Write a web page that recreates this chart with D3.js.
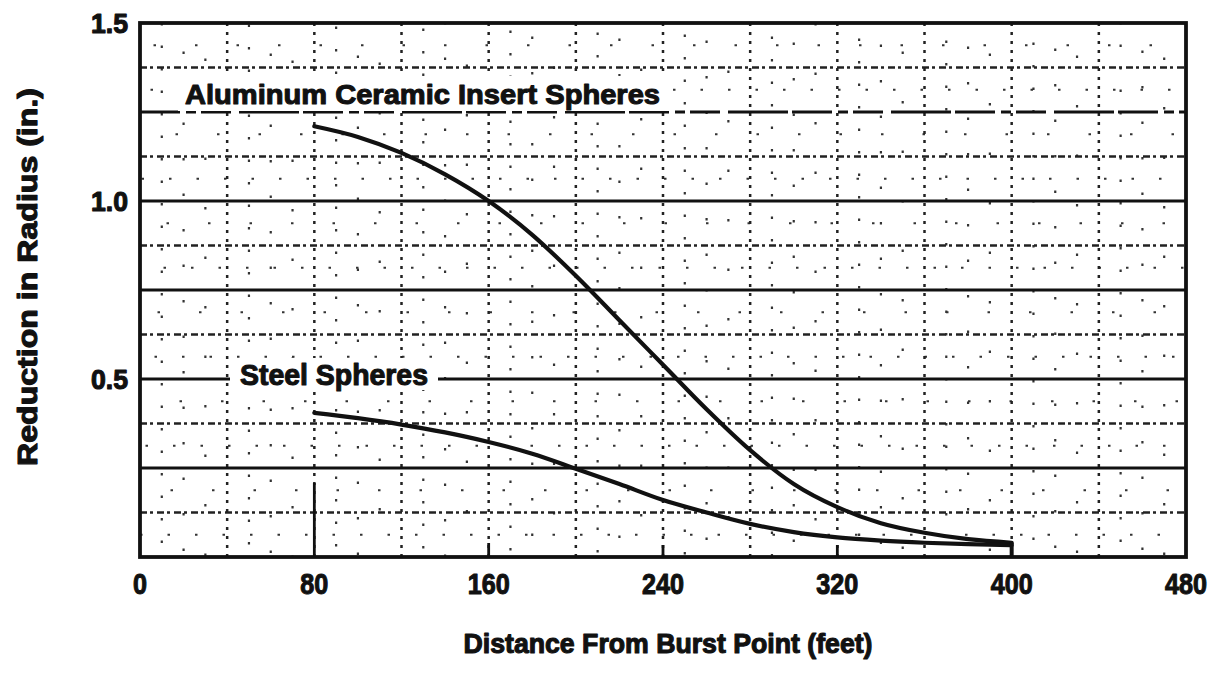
<!DOCTYPE html>
<html>
<head>
<meta charset="utf-8">
<script src="https://cdn.jsdelivr.net/npm/d3@7"></script>
<style>
  html, body { margin: 0; padding: 0; background: #fff; }
  svg text {
    font-family: "Liberation Sans", Arial, sans-serif; font-weight: bold; fill: #111;
    stroke: #111; stroke-width: 1.1px; stroke-linejoin: round;
  }
</style>
</head>
<body>
<svg id="chart" width="1216" height="675"></svg>
<script>
// Distance from burst point (feet)
const distance = [80, 100, 120, 140, 160, 180, 200, 220, 240, 260, 280, 300, 320, 340, 360, 380, 400];
// Reduction in radius (in.)
const aluminumCeramic = [1.21, 1.18, 1.135, 1.075, 1.0, 0.905, 0.79, 0.665, 0.54, 0.415, 0.30, 0.205, 0.14, 0.095, 0.068, 0.05, 0.04];
const steel = [0.405, 0.39, 0.372, 0.35, 0.323, 0.29, 0.248, 0.205, 0.16, 0.125, 0.093, 0.07, 0.055, 0.046, 0.04, 0.036, 0.033];

const xTicks = [0, 80, 160, 240, 320, 400, 480];
const xTickLabels = ["0", "80", "160", "240", "320", "400", "480"];
const yTicks = [0.5, 1.0, 1.5];
const yTickLabels = ["0.5", "1.0", "1.5"];
const majorGridY = [0.25, 0.5, 0.75, 1.0, 1.25];
const minorGridY = [0.125, 0.375, 0.625, 0.875, 1.125, 1.375];
const gridX = [40, 80, 120, 160, 200, 240, 280, 320, 360, 400, 440];
const fineGridX = [10, 20, 30, 50, 60, 70, 90, 100, 110, 130, 140, 150, 170, 180, 190, 210, 220, 230, 250, 260, 270, 290, 300, 310, 330, 340, 350, 370, 380, 390, 410, 420, 430, 450, 460, 470];
const fineGridY = [0.0625, 0.1875, 0.3125, 0.4375, 0.5625, 0.6875, 0.8125, 0.9375, 1.0625, 1.1875, 1.3125, 1.4375];

const svg = d3.select("#chart");
const plotLeft = 140, plotRight = 1186, plotTop = 23, plotBottom = 557;

const x = d3.scaleLinear().domain([0, 480]).range([plotLeft, plotRight]);
const y = d3.scaleLinear().domain([0, 1.5]).range([plotBottom, plotTop]);

const grid = svg.append("g");

// faint dot texture of the graph paper
grid.selectAll(".fx").data(fineGridX).join("line")
  .attr("x1", d => x(d)).attr("x2", d => x(d))
  .attr("y1", plotTop).attr("y2", plotBottom)
  .attr("stroke", "#333").attr("stroke-width", 2.2)
  .attr("stroke-dasharray", (d, i) => i % 3 === 0 ? "2.5,20" : (i % 3 === 1 ? "2.5,33" : "2.5,47"))
  .attr("stroke-dashoffset", (d, i) => (i * 7) % 23);
grid.selectAll(".fy").data(fineGridY).join("line")
  .attr("x1", plotLeft).attr("x2", plotRight)
  .attr("y1", d => y(d)).attr("y2", d => y(d))
  .attr("stroke", "#333").attr("stroke-width", 2.2)
  .attr("stroke-dasharray", (d, i) => i % 2 === 0 ? "2.5,25" : "2.5,39")
  .attr("stroke-dashoffset", (d, i) => (i * 11) % 31);

// dotted vertical grid every 40 ft
grid.selectAll(".vx").data(gridX).join("line")
  .attr("x1", d => x(d)).attr("x2", d => x(d))
  .attr("y1", plotTop).attr("y2", plotBottom)
  .attr("stroke", "#222").attr("stroke-width", 2.5)
  .attr("stroke-dasharray", "3,6");

// dotted horizontal grid every 1/8 in.
grid.selectAll(".hy").data(minorGridY).join("line")
  .attr("x1", plotLeft).attr("x2", plotRight)
  .attr("y1", d => y(d)).attr("y2", d => y(d))
  .attr("stroke", "#222").attr("stroke-width", 2.5)
  .attr("stroke-dasharray", "7,3,3,4");

// solid horizontal grid every 1/4 in.
grid.selectAll(".my").data(majorGridY).join("line")
  .attr("x1", plotLeft).attr("x2", plotRight)
  .attr("y1", d => y(d)).attr("y2", d => y(d))
  .attr("stroke", "#111").attr("stroke-width", 2.8)
  .attr("stroke-dasharray", d => d === 1.25 ? "40,6,10,5,30,8,60,4" : null);

// clear space behind the curve labels
svg.append("rect").attr("x", 178).attr("y", 76).attr("width", 492).attr("height", 35).attr("fill", "#fff");
svg.append("rect").attr("x", 230).attr("y", 358).attr("width", 208).attr("height", 32).attr("fill", "#fff");

// inward ticks along the distance axis
const tickLen = {80: 74, 160: 14, 240: 12, 320: 12};
svg.append("g").selectAll("line").data([80, 160, 240, 320]).join("line")
  .attr("x1", d => x(d)).attr("x2", d => x(d))
  .attr("y1", plotBottom).attr("y2", d => plotBottom - tickLen[d])
  .attr("stroke", "#111").attr("stroke-width", 2.8);

// curves
const line = d3.line().x((d, i) => x(distance[i])).y(d => y(d)).curve(d3.curveMonotoneX);
svg.append("path").attr("d", line(aluminumCeramic))
  .attr("fill", "none").attr("stroke", "#111").attr("stroke-width", 4.2).attr("stroke-linecap", "round");
svg.append("path").attr("d", line(steel))
  .attr("fill", "none").attr("stroke", "#111").attr("stroke-width", 4.2).attr("stroke-linecap", "round");

// closing bar where both curves end
svg.append("line")
  .attr("x1", x(400)).attr("x2", x(400))
  .attr("y1", plotBottom).attr("y2", y(aluminumCeramic[aluminumCeramic.length - 1]))
  .attr("stroke", "#111").attr("stroke-width", 4);

// frame
svg.append("rect")
  .attr("x", plotLeft).attr("y", plotTop).attr("width", plotRight - plotLeft).attr("height", plotBottom - plotTop)
  .attr("fill", "none").attr("stroke", "#111").attr("stroke-width", 3.8);

// tick labels
svg.append("g").selectAll("text").data(xTicks).join("text")
  .attr("x", d => x(d)).attr("y", 594)
  .attr("text-anchor", "middle")
  .attr("font-size", 30)
  .attr("textLength", (d, i) => xTickLabels[i].length * 14)
  .attr("lengthAdjust", "spacingAndGlyphs")
  .text((d, i) => xTickLabels[i]);

svg.append("g").selectAll("text").data(yTicks).join("text")
  .attr("x", 128).attr("y", d => y(d) + 10)
  .attr("text-anchor", "end")
  .attr("font-size", 27)
  .attr("textLength", 37)
  .attr("lengthAdjust", "spacingAndGlyphs")
  .text((d, i) => yTickLabels[i]);

// axis titles
svg.append("text")
  .attr("x", 668).attr("y", 653)
  .attr("text-anchor", "middle")
  .attr("font-size", 27)
  .attr("textLength", 409)
  .attr("lengthAdjust", "spacingAndGlyphs")
  .text("Distance From Burst Point  (feet)");

svg.append("text")
  .attr("transform", "translate(37,277) rotate(-90)")
  .attr("text-anchor", "middle")
  .attr("font-size", 27)
  .attr("textLength", 378)
  .attr("lengthAdjust", "spacingAndGlyphs")
  .text("Reduction in Radius (in.)");

// curve labels
svg.append("text")
  .attr("x", 185).attr("y", 104)
  .attr("font-size", 28)
  .attr("textLength", 475)
  .attr("lengthAdjust", "spacingAndGlyphs")
  .text("Aluminum Ceramic Insert Spheres");

svg.append("text")
  .attr("x", 240).attr("y", 385)
  .attr("font-size", 29)
  .attr("textLength", 188)
  .attr("lengthAdjust", "spacingAndGlyphs")
  .text("Steel Spheres");
</script>
</body>
</html>
